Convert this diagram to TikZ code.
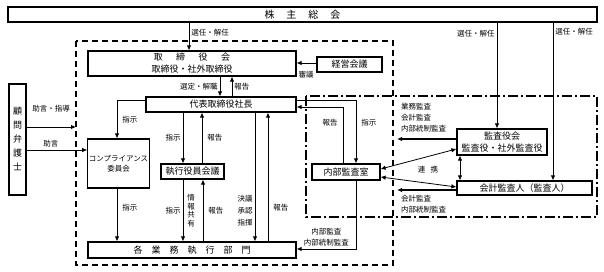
\documentclass[tikz,border=0pt]{standalone}
\usepackage{fontspec}
\newfontfamily\jpfont{Noto Sans CJK JP}
\usepackage{tikz}
\usetikzlibrary{arrows.meta,calc}

\begin{document}
\begin{tikzpicture}[x=1pt, y=-1pt, font=\jpfont\fontsize{9}{12}\selectfont,
  box/.style={draw, line width=1.2pt, fill=white, inner sep=1pt, align=center},
  lab/.style={font=\jpfont\fontsize{7.5}{11}\selectfont, inner sep=2pt, align=center},
  arr/.style={-{Latex[length=5pt,width=4.5pt]}, line width=0.8pt},
  darr/.style={{Latex[length=5pt,width=4.5pt]}-{Latex[length=5pt,width=4.5pt]}, line width=0.8pt},
  warr/.style={-{Latex[length=5pt,width=4.5pt]}, line width=1.8pt}]
\useasboundingbox (0,0) rectangle (604,272);
\draw[line width=1.2pt, dash pattern=on 6pt off 4pt] (76,41) rectangle (393,265);
\draw[line width=1.1pt, dash pattern=on 10pt off 3pt on 2pt off 3pt] (306,96) rectangle (597,217);
\node[box, minimum width=589pt, minimum height=15pt, font=\jpfont\fontsize{10}{12}\selectfont] (soukai) at (302.5,14.5) {株\hspace{1.2em}主\hspace{1.2em}総\hspace{1.2em}会};
\node[box, minimum width=208pt, minimum height=25pt] (torikai) at (192,63.5) {取\hspace{1.5em}締\hspace{1.5em}役\hspace{1.5em}会\\取締役・社外取締役};
\node[box, minimum width=65pt, minimum height=15pt] (keiei) at (349.5,64.5) {経営会議};
\node[box, minimum width=150pt, minimum height=15pt] (shacho) at (221,104.5) {代表取締役社長};
\node[box, minimum width=17pt, minimum height=111pt, font=\jpfont\fontsize{9}{14}\selectfont] (komon) at (17.5,139.5) {顧\\問\\弁\\護\\士};
\node[box, minimum width=61pt, minimum height=49pt, font=\jpfont\fontsize{7.5}{10}\selectfont] (compliance) at (118.5,163.5) {コンプライアンス\\委員会};
\node[box, minimum width=63pt, minimum height=15pt] (kaigi) at (192.5,171.5) {執行役員会議};
\node[box, minimum width=208pt, minimum height=16pt] (bumon) at (192,250) {各\hspace{1em}業\hspace{1em}務\hspace{1em}執\hspace{1em}行\hspace{1em}部\hspace{1em}門};
\node[box, minimum width=68pt, minimum height=16pt] (naibu) at (346,172) {内部監査室};
\node[box, minimum width=90pt, minimum height=26pt] (kansayaku) at (502,142) {監査役会\\監査役・社外監査役};
\node[box, minimum width=135pt, minimum height=14pt] (kaikei) at (524.5,188) {会計監査人（監査人）};
\coordinate (dashl) at (76,127);
\coordinate (kansaend) at (397,139);
\coordinate (kaikeiend) at (397,190);
\draw[arr] (soukai.south -| 189,0) -- node[lab, right, pos=0.35] {選任・解任} (torikai.north -| 189,0);
\draw[arr] (torikai.south -| 220,0) -- node[lab, left] {選定・解職} (shacho.north -| 220,0);
\draw[arr] (shacho.north -| 232,0) -- node[lab, right] {報告} (torikai.south -| 232,0);
\draw[arr] (keiei.west |- 0,63) -- (torikai.east |- 0,63);
\node[lab] (shingi) at (306,75) {審議};
\draw[arr] (shacho.west |- 0,100) -| node[lab, right, pos=0.75, xshift=3pt] {指示} (compliance.north -| 117,0);
\draw[arr] (komon.east |- dashl) -- (dashl);
\node[lab] (jogen) at (51,109) {助言・指導};
\draw[arr] (komon.east |- 0,150) -- node[lab, above, pos=0.4] {助言} (compliance.west |- 0,150);
\draw[arr] (shacho.south -| 183,0) -- node[lab, left] {指示} (kaigi.north -| 183,0);
\draw[arr] (kaigi.north -| 202,0) -- node[lab, right, xshift=3pt] {報告} (shacho.south -| 202,0);
\draw[arr] (kaigi.south -| 183,0) -- node[lab, left] {指示} node[lab, right, xshift=2pt, font=\jpfont\fontsize{7.5}{8.5}\selectfont] {情\\報\\共\\有} (bumon.north -| 183,0);
\draw[arr] (bumon.north -| 203,0) -- node[lab, right, xshift=3pt] {報告} (kaigi.south -| 203,0);
\draw[arr] (compliance.south -| 117,0) -- node[lab, right, pos=0.37, xshift=3pt] {指示} (bumon.north -| 117,0);
\draw[arr] (shacho.south -| 255,0) -- node[lab, left, pos=0.76, font=\jpfont\fontsize{7.5}{12}\selectfont] {決議\\承認\\指揮} (bumon.north -| 255,0);
\draw[arr] (bumon.north -| 268,0) -- node[lab, right, pos=0.26, xshift=3pt] {報告} (shacho.south -| 268,0);
\draw[arr] (naibu.north -| 343,0) |- node[lab, left, pos=0.36, xshift=-3pt] {報告} (shacho.east |- 0,107);
\draw[arr] (shacho.east |- 0,100) -| node[lab, right, pos=0.68, xshift=3pt] {指示} (naibu.north -| 356,0);
\draw[arr] (naibu.south -| 356,0) |- node[lab, above, pos=0.75] {内部監査\\内部統制監査} (bumon.east |- 0,249);
\draw[arr] (soukai.south -| 497,0) -- node[lab, left, pos=0.1] {選任・解任} (kansayaku.north -| 497,0);
\draw[arr] (soukai.south -| 553,0) -- node[lab, right, pos=0.06] {選任・解任} (kaikei.north -| 553,0);
\draw[warr] (kansayaku.west |- kansaend) -- (kansaend);
\node[lab, anchor=south west, align=left] (kansalab) at (399,134) {業務監査\\会計監査\\内部統制監査};
\draw[warr] (kaikei.west |- kaikeiend) -- (kaikeiend);
\node[lab, anchor=north west, align=left] (kaikeilab) at (399,193) {会計監査\\内部統制監査};
\draw[darr] (naibu.east |- 0,169) -- (kansayaku.west |- 0,149);
\draw[darr] (naibu.east |- 0,177) -- (kaikei.west |- 0,187);
\draw[darr] (kansayaku.south -| 460,0) -- (kaikei.north -| 460,0);
\node[lab] (renkei) at (428,170) {連\hspace{0.7em}携};
\end{tikzpicture}
\end{document}
